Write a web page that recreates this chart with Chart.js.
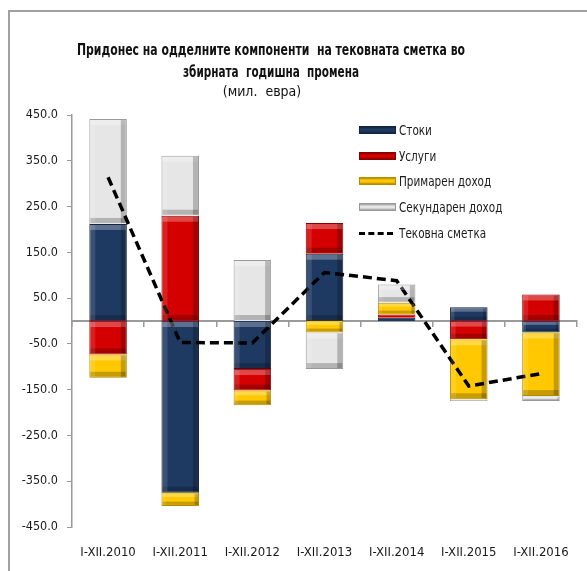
<!DOCTYPE html>
<html>
<head>
<meta charset="utf-8">
<script src="https://cdn.jsdelivr.net/npm/chart.js@4"></script>
<style>
  body { margin: 0; background: #fff; }
  #wrap { position: relative; width: 587px; height: 571px; overflow: hidden; }
  #frame { position: absolute; left: 8px; top: 10px; width: 700px; height: 700px;
           border-left: 2px solid #a0a0a0; border-top: 2px solid #a0a0a0; }
  canvas { position: absolute; left: 0; top: 0; }
  .ttl { position: absolute; left: 0; width: 542px; text-align: center; color: #111;
         font-family: "DejaVu Sans Condensed", sans-serif; white-space: nowrap; }
  .ttl span { display: inline-block; }
  #legend { position: absolute; left: 359px; top: 117px;
            font-family: "DejaVu Sans Condensed", sans-serif;
            font-size: 14px; color: #1a1a1a; }
  .item { height: 25.8px; display: flex; align-items: center; white-space: nowrap; }
  .sw { width: 37px; height: 8px; margin-right: 3px; box-sizing: border-box; flex: none; }
  .dash { width: 34px; height: 0; border-top: 3.5px dashed #000; margin-right: 6px; flex: none; }
  .txt { display: inline-block; transform: scaleX(0.83); transform-origin: left center; }
</style>
</head>
<body>
<div id="wrap">
  <div id="frame"></div>
  <canvas id="chart" width="587" height="571"></canvas>
  <div class="ttl" style="top:40px;font-size:16px;font-weight:bold;"><span data-w="388">Придонес на одделните компоненти&nbsp; на тековната сметка во</span></div>
  <div class="ttl" style="top:62px;font-size:16px;font-weight:bold;"><span data-w="176">збирната&nbsp; годишна&nbsp; промена</span></div>
  <div class="ttl" style="top:83px;font-size:14px;left:-9px;"><span>(мил.&nbsp; евра)</span></div>
  <div id="legend"></div>
</div>
<script>
const categories = ["I-XII.2010", "I-XII.2011", "I-XII.2012", "I-XII.2013", "I-XII.2014", "I-XII.2015", "I-XII.2016"];
const goods = [212, -375, -105, 147, 7, 30, -25];
const services = [-73, 230, -47, 67, 7, -40, 58];
const primaryIncome = [-51, -29, -32, -25, 26, -131, -139];
const secondaryIncome = [229, 131, 133, -80, 40, -4, -11];
const currentAccount = [314, -47, -48, 106, 88, -142, -115];
const yTicks = [450, 350, 250, 150, 50, -50, -150, -250, -350, -450];

const names = ["Стоки", "Услуги", "Примарен доход", "Секундарен доход", "Тековна сметка"];
const fills = ["#1f3a62", "#d40000", "#ffc800", "#e6e6e6"];
const edges = ["#13243d", "#8a0000", "#b58b00", "#9a9a9a"];

const font = "'DejaVu Sans Condensed', sans-serif";

// squeeze title lines to the narrow width of the original font
document.querySelectorAll(".ttl span[data-w]").forEach(s => {
  const k = Number(s.dataset.w) / s.getBoundingClientRect().width;
  s.style.transform = "scaleX(" + k + ")";
});

function bar(i, data) {
  return {
    type: "bar",
    label: names[i],
    data: data,
    backgroundColor: fills[i],
    borderColor: edges[i],
    borderWidth: 1,
    barPercentage: 0.52,
    categoryPercentage: 1,
    order: 2
  };
}

// soft bevel on each bar segment
const bevel = {
  id: "bevel",
  afterDatasetsDraw(chart) {
    const ctx = chart.ctx;
    chart.data.datasets.forEach((ds, di) => {
      if (ds.type !== "bar") return;
      chart.getDatasetMeta(di).data.forEach(el => {
        const p = el.getProps(["x", "y", "base", "width"], true);
        const top = Math.min(p.y, p.base), h = Math.abs(p.base - p.y);
        const left = p.x - p.width / 2;
        if (h < 4) return;
        const k = Math.min(5, h / 4);
        ctx.save();
        ctx.fillStyle = "rgba(255,255,255,0.28)";
        ctx.fillRect(left + 1, top + 1, p.width - 2, k);
        ctx.fillStyle = "rgba(0,0,0,0.22)";
        ctx.fillRect(left + 1, top + h - k - 1, p.width - 2, k);
        ctx.fillRect(left + p.width - k - 1, top + 1, k, h - 2);
        ctx.fillStyle = "rgba(255,255,255,0.12)";
        ctx.fillRect(left + 1, top + 1, k, h - 2);
        ctx.restore();
      });
    });
  }
};

new Chart(document.getElementById("chart"), {
  data: {
    labels: categories,
    datasets: [
      bar(0, goods),
      bar(1, services),
      bar(2, primaryIncome),
      bar(3, secondaryIncome),
      {
        type: "line",
        label: names[4],
        data: currentAccount,
        borderColor: "#000",
        borderWidth: 3.5,
        borderDash: [9, 5],
        pointRadius: 0,
        fill: false,
        tension: 0,
        order: 1
      }
    ]
  },
  options: {
    responsive: false,
    animation: false,
    layout: { padding: { top: 115, left: 0, right: 5, bottom: 8 } },
    plugins: { legend: { display: false }, tooltip: { enabled: false } },
    scales: {
      x: {
        stacked: true,
        offset: true,
        grid: { display: false, drawTicks: false },
        border: { display: false },
        ticks: { color: "#1a1a1a", font: { family: font, size: 13 }, padding: 18, maxRotation: 0 },
        afterFit(s) { s.height = 36; }
      },
      x2: {
        axis: "x",
        type: "category",
        labels: categories,
        position: { y: 0 },
        offset: true,
        grid: { drawOnChartArea: false, offset: true, tickLength: 5, color: "#9a9a9a", lineWidth: 1.5 },
        border: { color: "#9a9a9a", width: 2 },
        ticks: { display: false }
      },
      y: {
        stacked: true,
        min: -450,
        max: 450,
        afterBuildTicks(s) { s.ticks = yTicks.map(v => ({ value: v })); },
        afterFit(s) { s.width = 72; },
        grid: { drawOnChartArea: false, tickLength: 5, color: "#9a9a9a" },
        border: { color: "#9a9a9a", width: 1.5 },
        ticks: {
          color: "#1a1a1a",
          font: { family: font, size: 12.5 },
          padding: 9,
          callback: v => v.toFixed(1)
        }
      }
    }
  },
  plugins: [bevel]
});

const legend = document.getElementById("legend");
names.forEach((n, i) => {
  const row = document.createElement("div");
  row.className = "item";
  const sw = document.createElement("span");
  if (i < 4) {
    sw.className = "sw";
    sw.style.background = "linear-gradient(" + edges[i] + ", " + fills[i] + " 35%, " + fills[i] + " 65%, " + edges[i] + ")";
    sw.style.border = "1px solid " + edges[i];
  } else {
    sw.className = "dash";
  }
  row.appendChild(sw);
  const t = document.createElement("span");
  t.className = "txt";
  t.textContent = n;
  row.appendChild(t);
  legend.appendChild(row);
});
</script>
</body>
</html>
